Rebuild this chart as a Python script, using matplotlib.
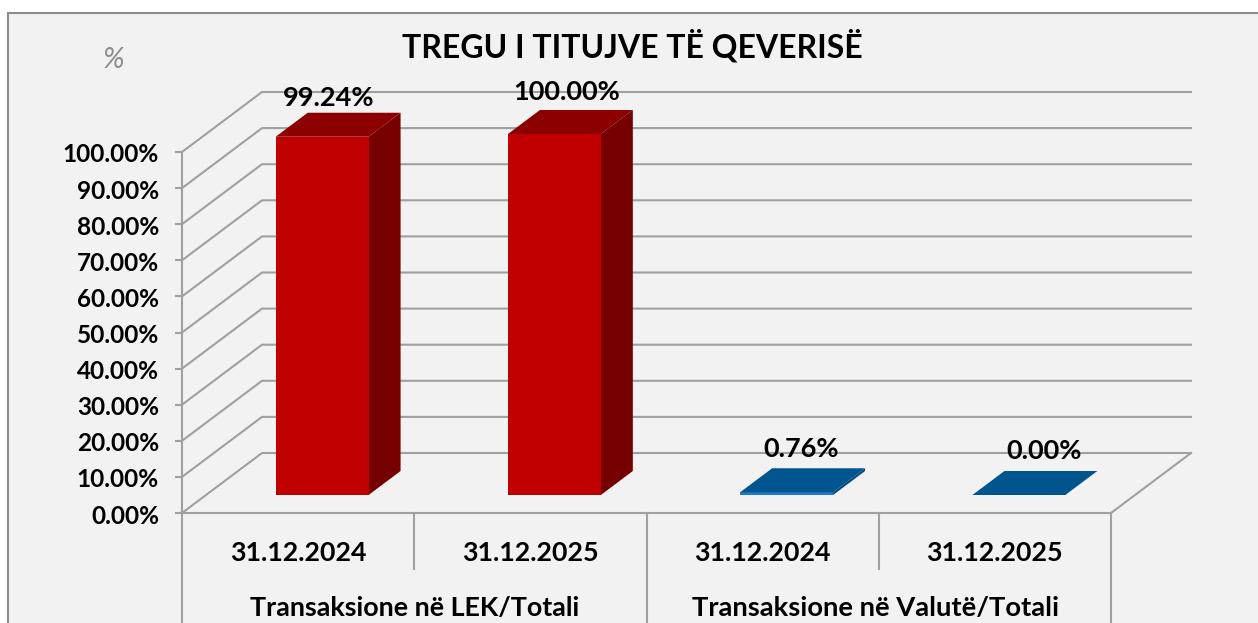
import matplotlib
matplotlib.use('Agg')
import matplotlib.pyplot as plt
from matplotlib.patches import Polygon, Rectangle
from matplotlib.transforms import ScaledTranslation

W, H = 1258, 623

title = 'TREGU I TITUJVE TË QEVERISË'
dates = ['31.12.2024', '31.12.2025', '31.12.2024', '31.12.2025']
groups = ['Transaksione në LEK/Totali', 'Transaksione në Valutë/Totali']
values = [99.24, 100.00, 0.76, 0.00]
value_labels = ['99.24%', '100.00%', '0.76%', '0.00%']
y_ticks = [0, 10, 20, 30, 40, 50, 60, 70, 80, 90, 100]

# front, top, side colours
red = ['#c00000', '#8c0000', '#760000']
blue = ['#1f78c8', '#00558f', '#004a80']
bar_colors = [red, red, blue, blue]

# labels were moved by hand in the original, offsets in pixels
label_dx = [-26, -20, -17, -7]
label_dy = [3, 6, 7, 8]

plt.rcParams['font.family'] = ['Lato', 'DejaVu Sans']
plt.rcParams['font.weight'] = 'bold'

fig = plt.figure(figsize=(W / 100, H / 100), dpi=100, facecolor='white')

# chart area frame, right and bottom edges run off the picture
fig.add_artist(Rectangle((8 / W, -0.02), (W + 20) / W, (H - 13) / H + 0.02, transform=fig.transFigure,
                         facecolor='#f2f2f2', edgecolor='#8c8c8c', linewidth=1.5, zorder=-1))

# the axes is the front plane of the fake 3d box
left, right, floor, top = 182, 1111, 513, 152
ax = fig.add_axes([left / W, (H - floor) / H, (right - left) / W, (floor - top) / H])
ax.set_xlim(0, 4)
ax.set_ylim(0, 100)
ax.patch.set_alpha(0)

px_x = 4 / (right - left)
px_y = 100 / (floor - top)


def depth(x, y, d):
    # oblique projection, d = 1 is the back wall
    return x + d * 80 * px_x, y + d * 60 * px_y


grid_color = '#a0a0a0'
lw = 1.5

for v in y_ticks:
    x0, y0 = depth(0, v, 1)
    x1, y1 = depth(4, v, 1)
    ax.plot([0, x0, x1], [v, y0, y1], color=grid_color, lw=lw, clip_on=False, zorder=1)
x1, y1 = depth(4, 0, 1)
ax.plot([4, x1], [0, y1], color=grid_color, lw=lw, clip_on=False, zorder=1)

# bars
d0, d1 = 0.3, 0.7
bar_w = 0.4
for i, v in enumerate(values):
    xl = i + 0.3
    xr = xl + bar_w
    c_front, c_top, c_side = bar_colors[i]
    base_l = depth(xl, 0, d0)
    base_r = depth(xr, 0, d0)
    top_l = depth(xl, v, d0)
    top_r = depth(xr, v, d0)
    back_l = depth(xl, v, d1)
    back_r = depth(xr, v, d1)
    back_base = depth(xr, 0, d1)
    ax.add_patch(Polygon([base_r, top_r, back_r, back_base], fc=c_side, ec='none', clip_on=False, zorder=3))
    ax.add_patch(Polygon([base_l, base_r, top_r, top_l], fc=c_front, ec='none', clip_on=False, zorder=3))
    ax.add_patch(Polygon([top_l, top_r, back_r, back_l], fc=c_top, ec='none', clip_on=False, zorder=3))
    lx, ly = depth(xl + bar_w / 2, v, d1)
    ax.annotate(value_labels[i], (lx, ly), xytext=(label_dx[i], label_dy[i]), textcoords='offset pixels',
                ha='center', va='bottom', fontsize=19.5, color='black', annotation_clip=False, zorder=4)

for s in ['top', 'right']:
    ax.spines[s].set_visible(False)
for s in ['left', 'bottom']:
    ax.spines[s].set_color(grid_color)
    ax.spines[s].set_linewidth(lw)

ax.set_yticks(y_ticks)
ax.set_yticklabels(['%.2f%%' % v for v in y_ticks], fontsize=17.6)
ax.tick_params(axis='y', length=5, width=lw, color=grid_color, pad=11.5)
ax.set_xticks([])
for label in ax.get_yticklabels():
    label.set_transform(label.get_transform() + ScaledTranslation(0, -1 / 100, fig.dpi_scale_trans))

# multi level category axis below the floor
trans = ax.get_xaxis_transform()
sep_low = -(569 - floor) * px_y / 100
bottom = -(H - floor) * px_y / 100
for x, y_end in [(0, bottom), (1, sep_low), (2, bottom), (3, sep_low), (4, bottom)]:
    ax.plot([x, x], [0, y_end], color=grid_color, lw=lw, transform=trans, clip_on=False, zorder=1)
for i, d in enumerate(dates):
    ax.text(i + 0.5, -(551 - floor) * px_y / 100, d, transform=trans, ha='center', va='center_baseline',
            fontsize=19.3, color='black')
group_sizes = [19.4, 19.7]
for i, g in enumerate(groups):
    ax.text(2 * i + 1 - 0.012 * i, -(606 - floor) * px_y / 100, g, transform=trans, ha='center',
            va='center_baseline', fontsize=group_sizes[i], color='black')

fig.text(632 / W, 1 - 46 / H, title, ha='center', va='center', fontsize=23, color='black')
fig.text(113 / W, 1 - 60 / H, '%', ha='center', va='center', fontsize=21, color='#8c8c8c',
         style='italic', weight='normal')

fig.savefig('out.png', dpi=100, facecolor=fig.get_facecolor())
